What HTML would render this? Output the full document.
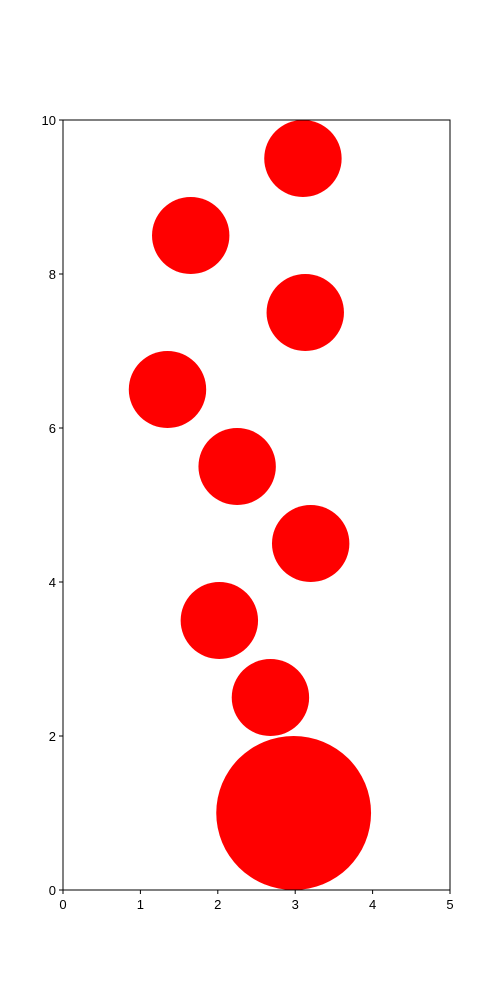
<!DOCTYPE html>
<html>
<head>
<meta charset="utf-8">
<style>
  html, body { margin: 0; padding: 0; background: #ffffff; }
  svg { display: block; }
  text { font-family: "Liberation Sans", "DejaVu Sans", sans-serif; font-size: 13px; fill: #000; }
</style>
</head>
<body>
<svg id="chart" width="500" height="1000" viewBox="0 0 500 1000">
  <g id="marks"></g>
  <rect x="63" y="120" width="387" height="770" fill="none" stroke="#000" stroke-width="1"></rect>
  <g id="axes"></g>
</svg>
<script>
const xValues = [3.1, 1.65, 3.13, 1.35, 2.25, 3.2, 2.02, 2.68, 2.98];
const yValues = [9.5, 8.5, 7.5, 6.5, 5.5, 4.5, 3.5, 2.5, 1.0];
const radii = [0.5, 0.5, 0.5, 0.5, 0.5, 0.5, 0.5, 0.5, 1.0];
const xTicks = [0, 1, 2, 3, 4, 5];
const yTicks = [0, 2, 4, 6, 8, 10];

const X0 = 63, X1 = 450, Y0 = 890, Y1 = 120;
const xMin = 0, xMax = 5, yMin = 0, yMax = 10;
function sx(v) { return X0 + (v - xMin) / (xMax - xMin) * (X1 - X0); }
function sy(v) { return Y0 - (v - yMin) / (yMax - yMin) * (Y0 - Y1); }
function rx(r) { return r / (xMax - xMin) * (X1 - X0); }
function ry(r) { return r / (yMax - yMin) * (Y0 - Y1); }

const NS = "http://www.w3.org/2000/svg";
const marks = document.getElementById('marks');
const axes = document.getElementById('axes');

for (let i = 0; i < xValues.length; i++) {
  const e = document.createElementNS(NS, 'ellipse');
  e.setAttribute('cx', sx(xValues[i]));
  e.setAttribute('cy', sy(yValues[i]));
  e.setAttribute('rx', rx(radii[i]));
  e.setAttribute('ry', ry(radii[i]));
  e.setAttribute('fill', '#ff0000');
  
  
  marks.appendChild(e);
}

xTicks.forEach(function (t) {
  const x = sx(t);
  const l = document.createElementNS(NS, 'line');
  l.setAttribute('x1', x); l.setAttribute('x2', x);
  l.setAttribute('y1', Y0); l.setAttribute('y2', Y0 + 4);
  l.setAttribute('stroke', '#000');
  
  
  axes.appendChild(l);
  const tx = document.createElementNS(NS, 'text');
  tx.setAttribute('x', x); tx.setAttribute('y', Y0 + 19);
  tx.setAttribute('text-anchor', 'middle');
  tx.textContent = String(t);
  
  
  axes.appendChild(tx);
});

yTicks.forEach(function (t) {
  const y = sy(t);
  const l = document.createElementNS(NS, 'line');
  l.setAttribute('x1', X0 - 4); l.setAttribute('x2', X0);
  l.setAttribute('y1', y); l.setAttribute('y2', y);
  l.setAttribute('stroke', '#000');
  
  
  axes.appendChild(l);
  const tx = document.createElementNS(NS, 'text');
  tx.setAttribute('x', X0 - 7); tx.setAttribute('y', y + 5);
  tx.setAttribute('text-anchor', 'end');
  tx.textContent = String(t);
  
  
  axes.appendChild(tx);
});
</script>
</body>
</html>
